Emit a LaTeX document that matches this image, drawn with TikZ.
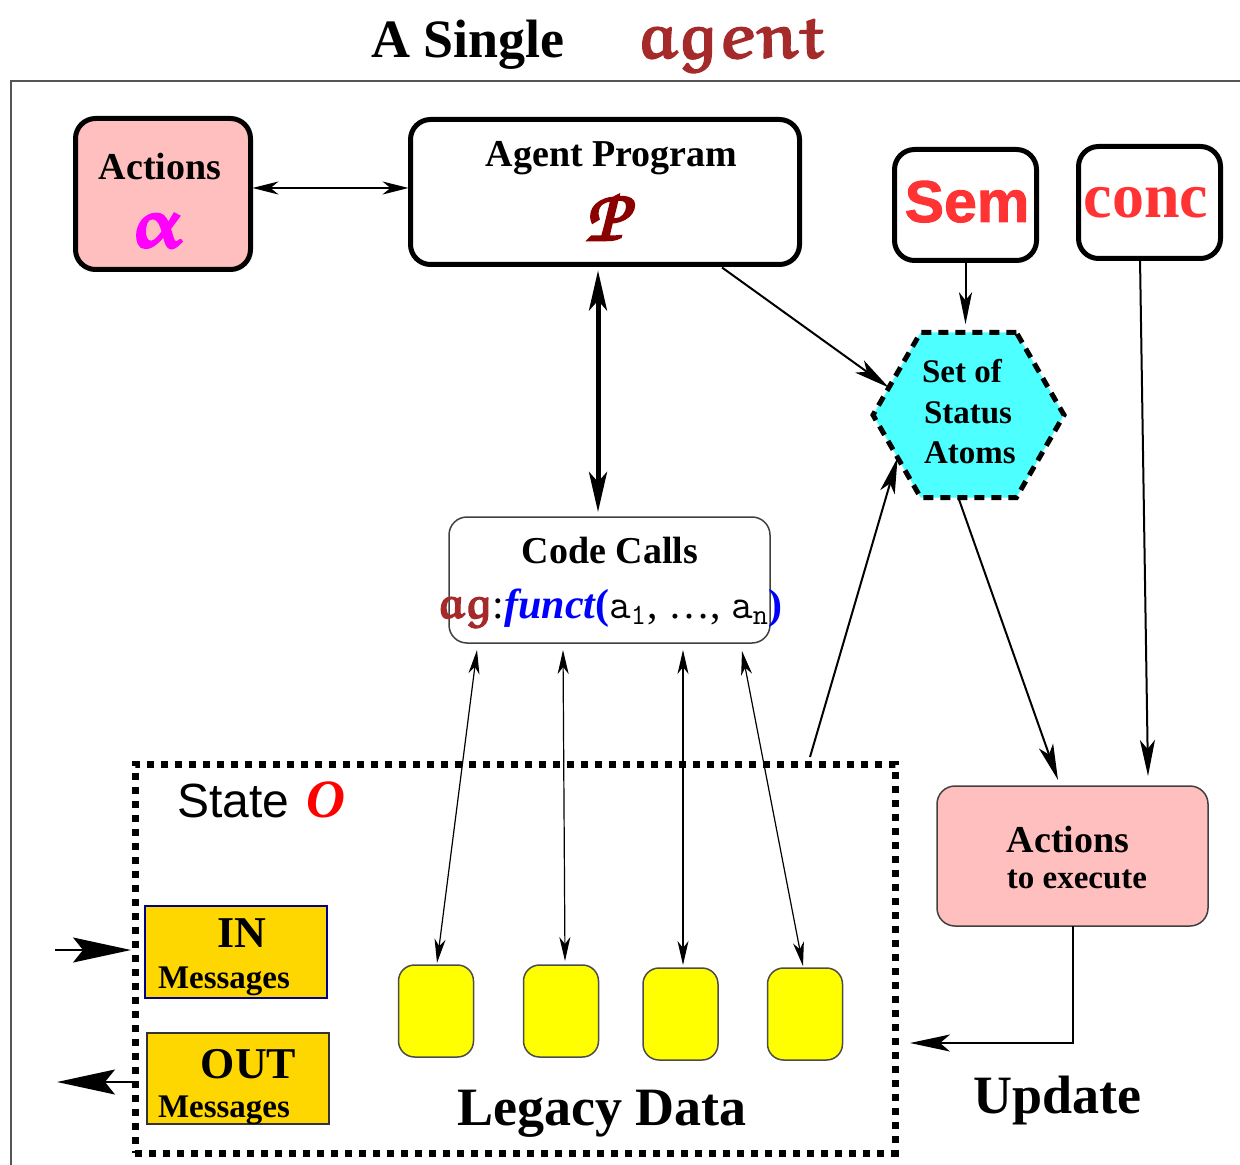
\documentclass[tikz,border=0pt]{standalone}
\usepackage{fontspec}
\setmainfont{Liberation Serif}
\setsansfont{Liberation Sans}
\newfontface\semface{Liberation Sans Bold}[FakeBold=1.6]
\usetikzlibrary{arrows.meta,calc,shapes.geometric}

\definecolor{boxpink}{HTML}{FFBFBF}
\definecolor{hexcyan}{HTML}{4DFFFF}
\definecolor{msggold}{HTML}{FFD700}
\definecolor{datayellow}{HTML}{FFFF00}
\definecolor{agentred}{HTML}{A52A2A}
\definecolor{progred}{HTML}{8B0000}
\definecolor{semred}{HTML}{FF3333}
\definecolor{alphamag}{HTML}{FF00FF}
\definecolor{framegray}{HTML}{555555}

% Euler bold at any size
\DeclareFontFamily{U}{eulerb}{}
\DeclareFontShape{U}{eulerb}{b}{n}{<-> eurb10}{}
\newcommand\eulerbold{\usefont{U}{eulerb}{b}{n}}
\newcommand\chancery{\usefont{T1}{pzc}{mb}{it}}
\newcommand\sz[1]{\fontsize{#1}{1.2\dimexpr#1pt\relax}\selectfont}
% outline-thickened glyphs (fill and stroke)
\newcommand\thicken[2]{\special{pdf:literal direct 2 Tr #1 w}#2\special{pdf:literal direct 0 Tr}}

\tikzset{
  every node/.style={inner sep=0pt, outer sep=0pt},
  heavybox/.style={draw, line width=2.5pt, rounded corners=10pt},
  softbox/.style={draw=black!75, line width=0.75pt, rounded corners=9pt},
  msgbox/.style={fill=msggold, line width=0.7pt},
  databox/.style={draw=black!70, fill=datayellow, line width=0.75pt,
    rounded corners=8pt, minimum width=37.5pt, minimum height=46pt},
  txt/.style={anchor=base, font=\bfseries\sz{19}},
  small/.style={anchor=base, font=\bfseries\sz{16.5}},
  big/.style={anchor=base, font=\bfseries\sz{27}},
  thinlink/.style={line width=0.75pt, {Stealth[length=13pt,width=6.5pt,inset=4pt]}-{Stealth[length=13pt,width=6.5pt,inset=4pt]}},
  calllink/.style={line width=0.6pt, {Stealth[length=12pt,width=5.5pt,inset=3.5pt]}-{Stealth[length=12pt,width=5.5pt,inset=3.5pt]}},
  heavylink/.style={line width=2.5pt, {Stealth[length=20pt,width=9pt,inset=5pt]}-{Stealth[length=20pt,width=9pt,inset=5pt]}},
  flow/.style={line width=1pt, -{Stealth[length=18pt,width=7.5pt,inset=4.5pt]}},
  shortflow/.style={line width=1pt, -{Stealth[length=16pt,width=6.5pt,inset=4pt]}},
  msglink/.style={line width=0.75pt, -{Stealth[length=29pt,width=12.5pt,inset=5pt]}},
}

\begin{document}
\begin{tikzpicture}[x=0.5pt, y=-0.5pt]
\useasboundingbox (0,0) rectangle (1240,1165);

% heading and frame
\node[big, font=\bfseries\sz{27}] (ttl) at (468,58) {A Single};
\node[anchor=base, text=agentred, font=\sz{31}\eulerbold] (ttlagent) at (731,58) {\thicken{0.7}{agent}};
\draw[framegray, line width=0.75pt] (10,81) -- (1240,81);
\draw[framegray, line width=0.75pt] (11,81) -- (11,1165);

% top row
\node[heavybox, fill=boxpink, minimum width=87.5pt, minimum height=75.5pt] (act) at (163,194) {};
\node[txt] (acttxt) at (160,180) {Actions};
\node[anchor=base, text=alphamag, font=\sz{35}\eulerbold] (alpha) at (156,247) {\thicken{1.2}{\char11}};

\node[heavybox, minimum width=194.5pt, minimum height=72.5pt] (ap) at (605,192) {};
\node[txt] (aptxt) at (611.5,167) {Agent Program};
\node[anchor=base, text=progred, font=\sz{37}\chancery] (prog) at (606,240) {\thicken{1.4}{P}};

\node[heavybox, minimum width=71pt, minimum height=55.5pt] (sem) at (965.5,205) {};
\node[anchor=base, text=semred, font=\semface\sz{29.5}] (semtxt) at (967,222) {Sem};

\node[heavybox, minimum width=71pt, minimum height=56pt] (conc) at (1149.5,202.5) {};
\node[anchor=base, text=semred, font=\bfseries\sz{32}] (conctxt) at (1146,218) {conc};

% status atoms
\node[regular polygon, regular polygon sides=6, minimum size=95.5pt, fill=hexcyan,
      draw, line width=2.5pt, dash pattern=on 5pt off 3.5pt] (hex) at (968.5,415) {};
\node[small, anchor=base west] (hex1) at (922,383) {Set of};
\node[small, anchor=base west] (hex2) at (924,423) {Status};
\node[small, anchor=base west] (hex3) at (924,463) {Atoms};

% code calls
\node[softbox, minimum width=160.5pt, minimum height=63pt] (cc) at (609.5,580) {};
\node[txt] (cctxt) at (610,563) {Code Calls};
\node[anchor=base, font=\sz{21}] (ccform) at (610,618)
  {{\color{agentred}\eulerbold\thicken{0.6}{ag}}:{\color{blue}\bfseries\itshape funct}{\color{blue}\bfseries(}%
   {\ttfamily a\textsubscript{1}}, \ldots, {\ttfamily a\textsubscript{n}}{\color{blue}\bfseries)}};

% state
\node[draw, line width=3.5pt, dash pattern=on 3.5pt off 3.5pt,
      minimum width=380pt, minimum height=194.5pt] (st) at (515,958.5) {};
\node[anchor=base west, font=\sffamily\sz{24}] (sttxt) at (177,817) {State};
\node[anchor=base west, text=red, font=\bfseries\itshape\sz{27}] (stO) at (306,817) {O};

\node[msgbox, draw=blue!55!black, minimum width=91pt, minimum height=46pt] (inb) at (236,952) {};
\node[big, font=\bfseries\sz{22}] (intxt) at (241.5,947) {IN};
\node[small, anchor=base west] (inmsg) at (158,988) {Messages};

\node[msgbox, draw=black!80, minimum width=91pt, minimum height=45.5pt] (outb) at (238,1078.5) {};
\node[big, font=\bfseries\sz{22}] (outtxt) at (248.5,1078) {OUT};
\node[small, anchor=base west] (outmsg) at (158,1117) {Messages};

\node[databox] (ld1) at (436,1011) {};
\node[databox] (ld2) at (561,1011) {};
\node[databox] (ld3) at (680.5,1014) {};
\node[databox] (ld4) at (805,1014) {};
\node[big] (ldtxt) at (602,1125) {Legacy Data};

% actions to execute
\node[softbox, fill=boxpink, minimum width=135.5pt, minimum height=70pt] (ax) at (1072.5,856) {};
\node[txt] (axtxt) at (1068,852) {Actions};
\node[small] (axtxt2) at (1077,888) {to execute};
\node[big] (upd) at (1057,1113) {Update};

% free ends of the message arrows
\coordinate (inpt) at (55,950);
\coordinate (outpt) at (57,1082);

% connectors
\draw[thinlink] ($(act.east)+(2,-6)$) -- ($(ap.west)+(-2,-4)$);
\draw[heavylink] ($(ap.south)+(-7,6)$) -- ($(cc.north)+(-11.5,-5)$);
\draw[flow] ($(ap.south)+(117,3)$) -- ($(hex.161)+(0,0)$);
\draw[shortflow] (sem.south) -- ($(sem.south |- hex.90)+(0,-8)$);
\draw[flow] ($(conc.south)+(-9.5,0)$) -- ($(ax.north)+(75.5,-10)$);
\draw[flow] (hex.263) -- ($(ax.north)+(-14.5,-6)$);
\draw[flow] ($(st.north)+(295,-7)$) -- (hex.211);

\draw[calllink] ($(cc.south)+(-132.5,7)$) -- ($(ld1.north)+(1,-2)$);
\draw[calllink] ($(cc.south)+(-46.5,7)$) -- ($(ld2.north)+(4,-4)$);
\draw[calllink] ($(cc.south)+(73.5,7)$) -- ($(ld3.north)+(2.5,-3)$);
\draw[calllink] ($(cc.south)+(132.5,8)$) -- ($(ld4.north)+(-2,-2)$);

\draw[msglink] (inpt) -- ($(st.west)+(-4,-8.5)$);
\draw[msglink] ($(st.west)+(-3,123.5)$) -- (outpt);

\draw[line width=1pt, -{Stealth[length=20pt,width=8.5pt,inset=5pt]}]
  (ax.south) |- ($(st.east)+(15,84.5)$);
\end{tikzpicture}
\end{document}
